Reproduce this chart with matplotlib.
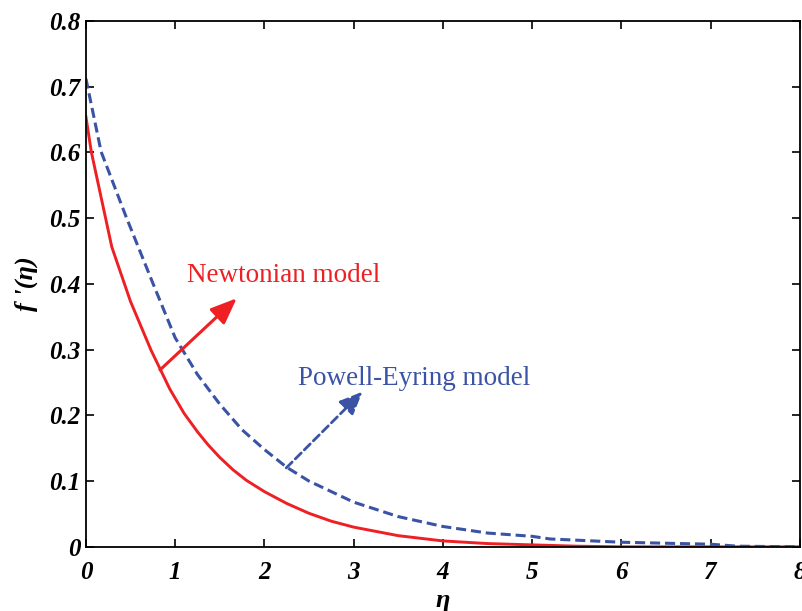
import numpy as np
import matplotlib
matplotlib.use("Agg")
import matplotlib.pyplot as plt

# similarity variable and velocity profiles f'(eta)
eta_newton = [0, 0.06, 0.29, 0.5, 0.73, 0.94, 1.1, 1.25, 1.37, 1.5, 1.65, 1.8, 2.0, 2.25, 2.5, 2.75, 3.0, 3.5, 4.0, 4.5, 5.0, 5.5, 6.0, 7.0, 8.0]
fp_newton = [0.654, 0.601, 0.456, 0.373, 0.299, 0.240, 0.203, 0.175, 0.155, 0.136, 0.117, 0.101, 0.084, 0.066, 0.051, 0.039, 0.030, 0.017, 0.009, 0.005, 0.003, 0.001, 0.0, 0.0, 0.0]

eta_pe = [0, 0.17, 0.45, 0.75, 1.0, 1.25, 1.5, 1.75, 2.0, 2.25, 2.5, 3.0, 3.5, 4.0, 4.5, 5.0, 5.2, 6.0, 7.0, 7.3, 8.0]
fp_pe = [0.712, 0.601, 0.502, 0.401, 0.318, 0.262, 0.217, 0.178, 0.148, 0.121, 0.100, 0.068, 0.046, 0.031, 0.021, 0.016, 0.012, 0.007, 0.004, 0.001, 0.0]

x_ticks = [0, 1, 2, 3, 4, 5, 6, 7, 8]
y_ticks = [0, 0.1, 0.2, 0.3, 0.4, 0.5, 0.6, 0.7, 0.8]
y_ticklabels = ["0", "0.1", "0.2", "0.3", "0.4", "0.5", "0.6", "0.7", "0.8"]

red = "#ee2024"
blue = "#3a53a4"
serif = "Liberation Serif"

fig = plt.figure(figsize=(8.03, 6.11), dpi=100)
ax = fig.add_axes([0.107, 0.105, 0.889, 0.861])

ax.plot(eta_newton, fp_newton, color=red, lw=2.1)
ax.plot(eta_pe, fp_pe, color=blue, lw=2.2, ls=(0, (3.3, 1.6)))

ax.set_xlim(0, 8)
ax.set_ylim(0, 0.8)
ax.set_xticks(x_ticks)
ax.set_yticks(y_ticks)
ax.set_yticklabels(y_ticklabels)
ax.tick_params(direction="in", length=6, width=1.2, top=True, right=True,
               labelsize=18)
ax.tick_params(axis="x", pad=10)
ax.tick_params(axis="y", pad=4)
for lab in ax.get_xticklabels() + ax.get_yticklabels():
    lab.set_fontfamily(serif)
    lab.set_fontweight("bold")
    lab.set_fontstyle("italic")
for sp in ax.spines.values():
    sp.set_linewidth(1.3)

ax.set_xlabel("η", fontsize=19, family=serif, fontweight="bold",
              fontstyle="italic", labelpad=4)
ax.set_ylabel("f '(η)", fontsize=19, family=serif, fontweight="bold",
              fontstyle="italic", labelpad=8)

# annotations for each model
ax.annotate("", xy=(1.69, 0.378), xytext=(0.83, 0.269),
            arrowprops=dict(arrowstyle="-|>,head_length=1.6,head_width=0.65",
                            color=red, lw=2.2, shrinkA=0, shrinkB=0))
ax.text(1.13, 0.403, "Newtonian model", color=red, fontsize=19.5,
        family=serif, va="baseline", ha="left")

ax.annotate("", xy=(3.10, 0.236), xytext=(2.245, 0.120),
            arrowprops=dict(arrowstyle="-|>,head_length=1.4,head_width=0.6",
                            color=blue, lw=2.0, ls=(0, (3, 1.6)),
                            shrinkA=0, shrinkB=0))
ax.text(2.38, 0.246, "Powell-Eyring model", color=blue, fontsize=19.5,
        family=serif, va="baseline", ha="left")

fig.savefig("out.png", dpi=100)
